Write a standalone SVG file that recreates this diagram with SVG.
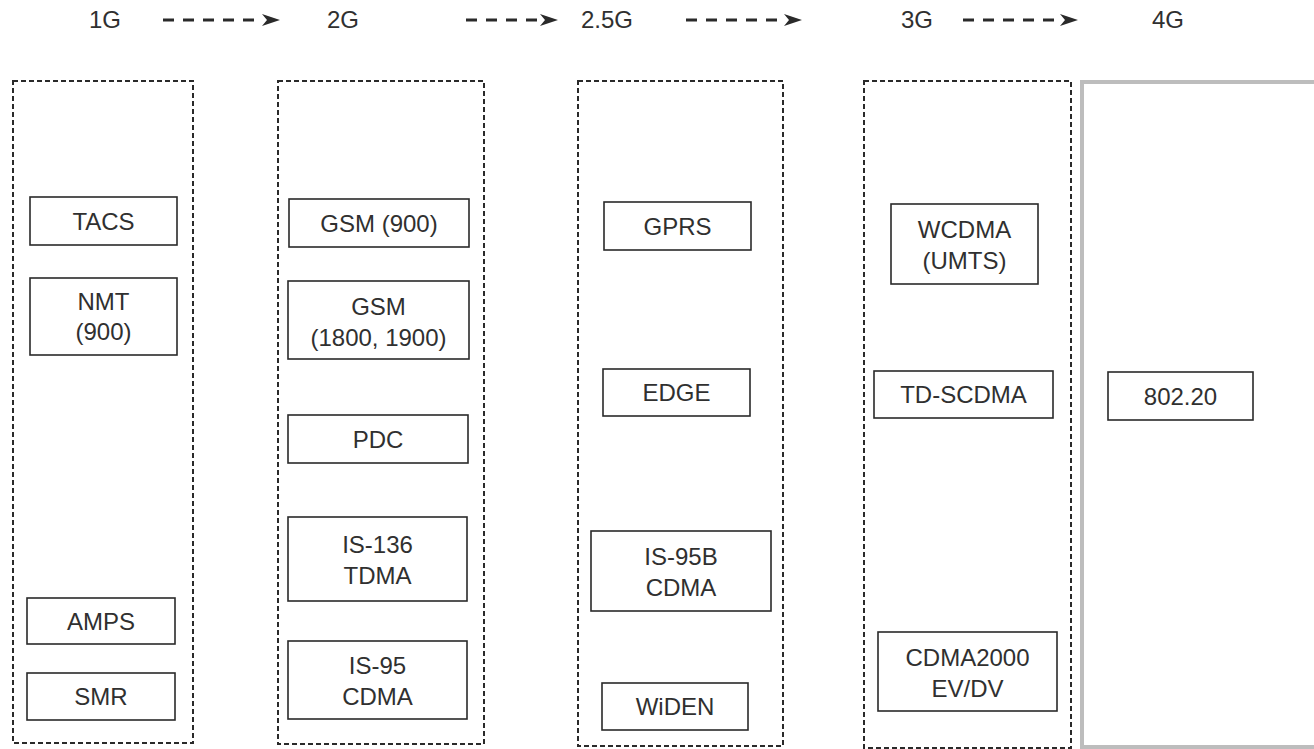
<svg xmlns="http://www.w3.org/2000/svg" width="1314" height="749" viewBox="0 0 1314 749">
<style>
text{font-family:"Liberation Sans",Arial,sans-serif;font-size:24px;fill:#303030;text-anchor:middle}
.hdr{font-size:24px}
.col{fill:none;stroke:#2a2a2a;stroke-width:2;stroke-dasharray:5,3}
.box{fill:#fff;stroke:#2a2a2a;stroke-width:1.6}
.arr{stroke:#2a2a2a;stroke-width:3;stroke-dasharray:11,9;fill:none}
.head{fill:#2a2a2a}
</style>
<rect width="1314" height="749" fill="#fff"/>
<g id="header">
<text class="hdr" x="105" y="28">1G</text>
<text class="hdr" x="343" y="28">2G</text>
<text class="hdr" x="607" y="28">2.5G</text>
<text class="hdr" x="917" y="28">3G</text>
<text class="hdr" x="1168" y="28">4G</text>
</g>
<g id="connectors">
<line class="arr" x1="163" y1="20" x2="262" y2="20"/><path class="head" d="M262,14 L280,20 L262,26 L267,20 Z"/>
<line class="arr" x1="466" y1="20" x2="540" y2="20"/><path class="head" d="M540,14 L558,20 L540,26 L545,20 Z"/>
<line class="arr" x1="686" y1="20" x2="784" y2="20"/><path class="head" d="M784,14 L802,20 L784,26 L789,20 Z"/>
<line class="arr" x1="963" y1="20" x2="1060" y2="20"/><path class="head" d="M1060,14 L1078,20 L1060,26 L1065,20 Z"/>
</g>
<g id="col-1G"><rect class="col" x="13" y="81" width="180" height="662"/></g>
<g id="col-2G"><rect class="col" x="278" y="81" width="206" height="663"/></g>
<g id="col-25G"><rect class="col" x="578" y="81" width="205" height="665"/></g>
<g id="col-3G"><rect class="col" x="864" y="81" width="207" height="667"/></g>
<g id="col-4G"><rect x="1082" y="82" width="240" height="665" fill="none" stroke="#bdbdbd" stroke-width="4"/></g>
<g id="n-tacs"><rect class="box" x="30" y="197" width="147" height="48"/><text x="103.5" y="230">TACS</text></g>
<g id="n-nmt"><rect class="box" x="30" y="278" width="147" height="77"/><text x="103.5" y="310">NMT</text><text x="103.5" y="340">(900)</text></g>
<g id="n-amps"><rect class="box" x="27" y="598" width="148" height="46"/><text x="101" y="630">AMPS</text></g>
<g id="n-smr"><rect class="box" x="27" y="673" width="148" height="47"/><text x="101" y="705">SMR</text></g>
<g id="n-gsm900"><rect class="box" x="289" y="199" width="180" height="48"/><text x="379" y="232">GSM (900)</text></g>
<g id="n-gsm1800"><rect class="box" x="288" y="281" width="181" height="78"/><text x="378.5" y="315">GSM</text><text x="378.5" y="346">(1800, 1900)</text></g>
<g id="n-pdc"><rect class="box" x="288" y="415" width="180" height="48"/><text x="378" y="448">PDC</text></g>
<g id="n-is136"><rect class="box" x="288" y="517" width="179" height="84"/><text x="377.5" y="553">IS-136</text><text x="377.5" y="584">TDMA</text></g>
<g id="n-is95"><rect class="box" x="288" y="641" width="179" height="78"/><text x="377.5" y="674">IS-95</text><text x="377.5" y="705">CDMA</text></g>
<g id="n-gprs"><rect class="box" x="604" y="202" width="147" height="48"/><text x="677.5" y="235">GPRS</text></g>
<g id="n-edge"><rect class="box" x="603" y="369" width="147" height="47"/><text x="676.5" y="401">EDGE</text></g>
<g id="n-is95b"><rect class="box" x="591" y="531" width="180" height="80"/><text x="681" y="565">IS-95B</text><text x="681" y="596">CDMA</text></g>
<g id="n-widen"><rect class="box" x="602" y="683" width="146" height="47"/><text x="675" y="715">WiDEN</text></g>
<g id="n-wcdma"><rect class="box" x="891" y="204" width="147" height="80"/><text x="964.5" y="238">WCDMA</text><text x="964.5" y="269">(UMTS)</text></g>
<g id="n-tdscdma"><rect class="box" x="874" y="371" width="179" height="47"/><text x="963.5" y="403">TD-SCDMA</text></g>
<g id="n-cdma2000"><rect class="box" x="878" y="632" width="179" height="79"/><text x="967.5" y="666">CDMA2000</text><text x="967.5" y="697">EV/DV</text></g>
<g id="n-80220"><rect class="box" x="1108" y="372" width="145" height="48"/><text x="1180.5" y="405">802.20</text></g>
</svg>
